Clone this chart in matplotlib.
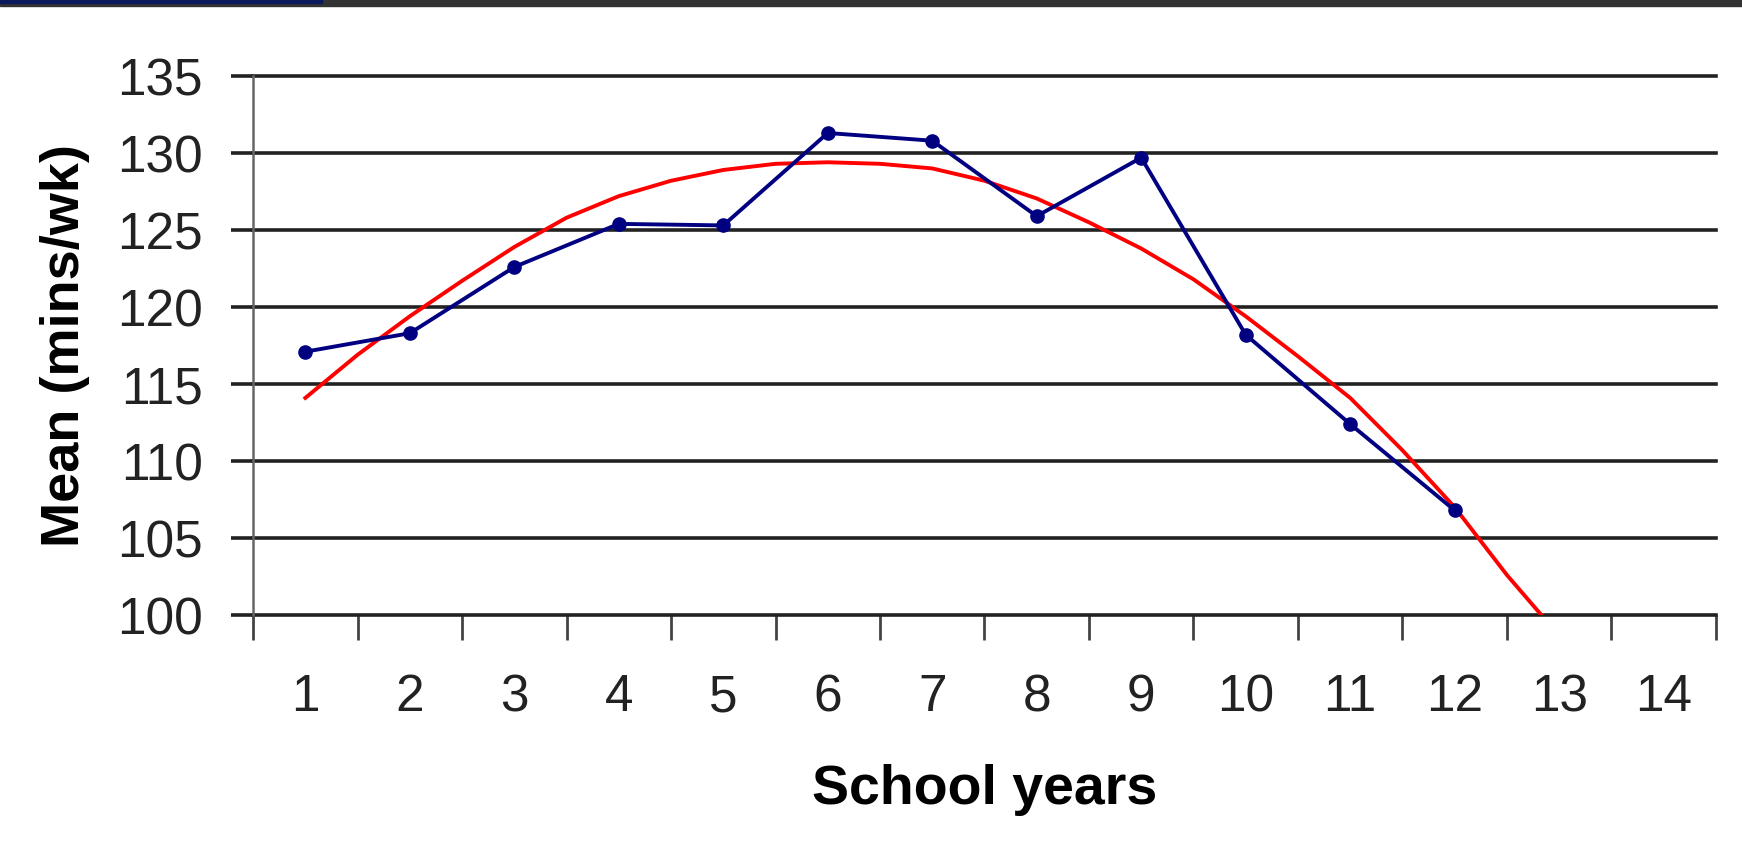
import numpy as np
import matplotlib.pyplot as plt
from matplotlib.patches import Rectangle

# data
years = list(range(1, 15))
year_labels = [str(y) for y in years]
obs_x = [1, 2, 3, 4, 5, 6, 7, 8, 9, 10, 11, 12]
obs_mean = [117.1, 118.3, 122.6, 125.4, 125.3, 131.3, 130.8, 125.9, 129.7, 118.2, 112.4, 106.8]
trend_x = [1, 1.5, 2, 2.5, 3, 3.5, 4, 4.5, 5, 5.5, 6, 6.5, 7, 7.5, 8, 8.5,
           9, 9.5, 10, 10.5, 11, 11.5, 12, 12.5, 12.83]
trend_mean = [114.1, 116.9, 119.4, 121.7, 123.9, 125.8, 127.2, 128.2, 128.9, 129.3,
              129.4, 129.3, 129.0, 128.2, 127.05, 125.5, 123.8, 121.8, 119.4, 116.8,
              114.1, 110.7, 107.0, 102.6, 100.0]
y_ticks = [100, 105, 110, 115, 120, 125, 130, 135]

plt.rcParams['font.family'] = ['Liberation Sans', 'DejaVu Sans']

fig = plt.figure(figsize=(17.42, 8.59), dpi=100)
ax = fig.add_axes([0.1453, 0.284, 0.8397, 0.6275])

ax.plot(trend_x, trend_mean, color='#ff0000', lw=2.8, zorder=3)
ax.plot(obs_x, obs_mean, color='#000080', lw=2.8, marker='o', ms=9.5, zorder=4)

ax.set_xlim(0.5, 14.5)
ax.set_ylim(100, 135)

# y axis: gridlines with outward ticks
ax.set_yticks(y_ticks)
ax.set_yticklabels([str(v) for v in y_ticks], fontsize=37, color='#222222')
ax.tick_params(axis='y', length=16, width=2.6, color='#222222', pad=20)
ax.yaxis.grid(True, color='#222222', lw=2.6)
for gl in ax.get_ygridlines():
    gl.set_clip_on(False)

# x axis: ticks on category borders, labels in the middle
ax.set_xticks(np.arange(0.5, 15, 1))
ax.set_xticklabels([])
ax.set_xticks(years, minor=True)
ax.set_xticklabels(year_labels, minor=True, fontsize=37, color='#222222')
ax.tick_params(axis='x', which='major', length=18, width=2, color='#444444')
ax.tick_params(axis='x', which='minor', length=0, pad=42)

for s in ['top', 'right', 'bottom']:
    ax.spines[s].set_visible(False)
ax.spines['left'].set_color('#666666')
ax.spines['left'].set_linewidth(1.8)

ax.set_ylabel('Mean (mins/wk)', fontsize=39, fontweight='bold', labelpad=20)
ax.set_xlabel('School years', fontsize=40, fontweight='bold', labelpad=30)

# dark band along the top edge
fig.patches.append(Rectangle((0, 0.993), 1, 0.007, transform=fig.transFigure,
                             color='#333333', zorder=0))
fig.patches.append(Rectangle((0, 0.996), 0.185, 0.004, transform=fig.transFigure,
                             color='#0a1a5c', zorder=1))

plt.savefig('out.png', dpi=100)
